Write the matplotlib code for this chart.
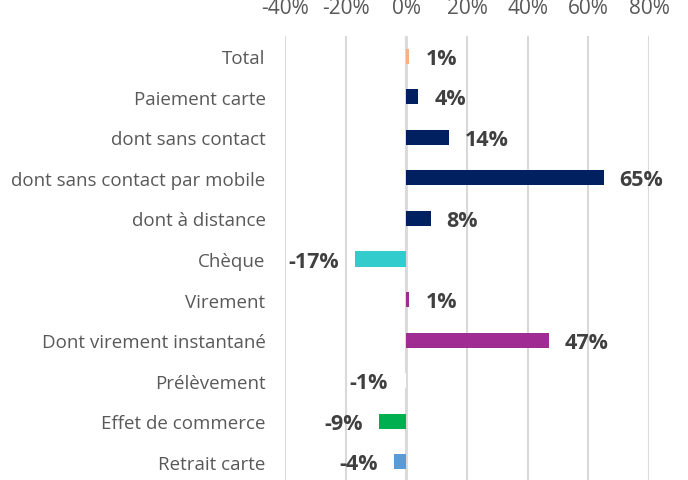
import matplotlib
matplotlib.use("Agg")
import matplotlib.pyplot as plt

categories = ["Total", "Paiement carte", "dont sans contact",
              "dont sans contact par mobile", "dont à distance", "Chèque",
              "Virement", "Dont virement instantané", "Prélèvement",
              "Effet de commerce", "Retrait carte"]
values = [1, 4, 14, 65, 8, -17, 1, 47, -1, -9, -4]
labels = ["1%", "4%", "14%", "65%", "8%", "-17%", "1%", "47%", "-1%", "-9%", "-4%"]
colors = ["#F4B183", "#002060", "#002060", "#002060", "#002060", "#33CCCC",
          "#A02B93", "#A02B93", "#FFFFFF", "#00B050", "#5B9BD5"]
xticks = [-40, -20, 0, 20, 40, 60, 80]
xticklabels = ["-40%", "-20%", "0%", "20%", "40%", "60%", "80%"]

plt.rcParams['font.family'] = ['Open Sans', 'DejaVu Sans']

fig = plt.figure(figsize=(6.88, 4.81), dpi=100)
ax = fig.add_axes([285/688, 1 - 483/481, (649 - 285)/688, (483 - 37)/481])

n = len(categories)
ypos = list(range(n))
ax.barh(ypos, values, height=0.37, color=colors, zorder=3)
ax.set_ylim(n - 0.5, -0.5)
ax.set_xlim(-40, 80)

ax.set_xticks(xticks)
ax.set_xticklabels(xticklabels, fontsize=15, color="#595959")
ax.xaxis.tick_top()
ax.tick_params(axis='x', length=0, pad=13)
ax.set_yticks(ypos)
ax.set_yticklabels(categories, fontsize=13.5, color="#595959")
ax.tick_params(axis='y', length=0, pad=14)

ax.grid(axis='x', color="#D9D9D9", linewidth=1.5, zorder=0)
ax.axvline(0, color="#D9D9D9", linewidth=2, zorder=1)
for s in ax.spines.values():
    s.set_visible(False)

for y, v, lab in zip(ypos, values, labels):
    if v >= 0:
        ax.annotate(lab, (v, y), xytext=(11.5, -1.5), textcoords="offset points",
                    ha="left", va="center", fontsize=15.5, fontweight="bold",
                    color="#404040")
    else:
        ax.annotate(lab, (v, y), xytext=(-11.5, -1.5), textcoords="offset points",
                    ha="right", va="center", fontsize=15.5, fontweight="bold",
                    color="#404040")

fig.savefig("out.png", dpi=100)
